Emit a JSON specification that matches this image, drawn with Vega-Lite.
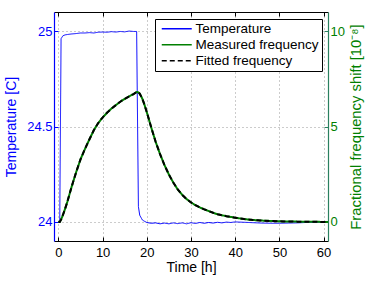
{
  "$schema": "https://vega.github.io/schema/vega-lite/v6.json",
  "width": 274,
  "height": 229,
  "autosize": {"type": "none"},
  "padding": {"left": 54, "top": 12, "right": 46, "bottom": 40},
  "background": "white",
  "config": {
    "view": {"stroke": null},
    "font": "Liberation Sans",
    "axis": {
      "labelFont": "Liberation Sans",
      "titleFont": "Liberation Sans",
      "titleFontWeight": "normal",
      "labelFontSize": 13,
      "titleFontSize": 14,
      "tickSize": -4,
      "tickWidth": 1,
      "domainWidth": 1.2,
      "gridDash": [1, 3],
      "gridColor": "#999999",
      "gridOpacity": 1
    },
    "legend": {
      "labelFont": "Liberation Sans",
      "labelFontSize": 13.5,
      "labelColor": "black"
    }
  },
  "data": {
    "values": [
      {"t": 0, "Temperature": 24.0, "Measured frequency": 0, "Fitted frequency": 0},
      {"t": 0.3, "Temperature": 24.0, "Measured frequency": 0.0, "Fitted frequency": 0.0},
      {"t": 0.6, "Temperature": 24.96, "Measured frequency": 0.12, "Fitted frequency": 0.12},
      {"t": 1, "Temperature": 24.975, "Measured frequency": 0.35, "Fitted frequency": 0.35},
      {"t": 1.5, "Temperature": 24.98, "Measured frequency": 0.68, "Fitted frequency": 0.68},
      {"t": 2, "Temperature": 24.982, "Measured frequency": 1.04, "Fitted frequency": 1.04},
      {"t": 3, "Temperature": 24.985, "Measured frequency": 1.85, "Fitted frequency": 1.85},
      {"t": 4, "Temperature": 24.987, "Measured frequency": 2.6, "Fitted frequency": 2.6},
      {"t": 5, "Temperature": 24.99, "Measured frequency": 3.28, "Fitted frequency": 3.28},
      {"t": 6, "Temperature": 24.99, "Measured frequency": 3.82, "Fitted frequency": 3.82},
      {"t": 7, "Temperature": 24.992, "Measured frequency": 4.32, "Fitted frequency": 4.32},
      {"t": 8, "Temperature": 24.99, "Measured frequency": 4.8, "Fitted frequency": 4.8},
      {"t": 9, "Temperature": 24.994, "Measured frequency": 5.18, "Fitted frequency": 5.18},
      {"t": 10, "Temperature": 24.995, "Measured frequency": 5.47, "Fitted frequency": 5.47},
      {"t": 11, "Temperature": 24.994, "Measured frequency": 5.72, "Fitted frequency": 5.72},
      {"t": 12, "Temperature": 24.997, "Measured frequency": 5.94, "Fitted frequency": 5.94},
      {"t": 13, "Temperature": 24.995, "Measured frequency": 6.12, "Fitted frequency": 6.12},
      {"t": 14, "Temperature": 24.998, "Measured frequency": 6.3, "Fitted frequency": 6.3},
      {"t": 15, "Temperature": 24.996, "Measured frequency": 6.45, "Fitted frequency": 6.45},
      {"t": 16, "Temperature": 25.0, "Measured frequency": 6.58, "Fitted frequency": 6.58},
      {"t": 17, "Temperature": 24.998, "Measured frequency": 6.7, "Fitted frequency": 6.7},
      {"t": 17.7, "Temperature": 24.998, "Measured frequency": 6.81, "Fitted frequency": 6.81},
      {"t": 18.1, "Temperature": 24.08, "Measured frequency": 6.79, "Fitted frequency": 6.79},
      {"t": 18.4, "Temperature": 24.035, "Measured frequency": 6.72, "Fitted frequency": 6.72},
      {"t": 19, "Temperature": 24.01, "Measured frequency": 6.45, "Fitted frequency": 6.45},
      {"t": 19.5, "Temperature": 24.003, "Measured frequency": 6.12, "Fitted frequency": 6.12},
      {"t": 20, "Temperature": 23.997, "Measured frequency": 5.75, "Fitted frequency": 5.75},
      {"t": 21, "Temperature": 23.993, "Measured frequency": 4.95, "Fitted frequency": 4.95},
      {"t": 22, "Temperature": 23.995, "Measured frequency": 4.2, "Fitted frequency": 4.2},
      {"t": 23, "Temperature": 23.99, "Measured frequency": 3.55, "Fitted frequency": 3.55},
      {"t": 24, "Temperature": 23.994, "Measured frequency": 2.98, "Fitted frequency": 2.98},
      {"t": 25, "Temperature": 23.99, "Measured frequency": 2.48, "Fitted frequency": 2.48},
      {"t": 26, "Temperature": 23.995, "Measured frequency": 2.06, "Fitted frequency": 2.06},
      {"t": 27, "Temperature": 23.991, "Measured frequency": 1.7, "Fitted frequency": 1.7},
      {"t": 28, "Temperature": 23.995, "Measured frequency": 1.42, "Fitted frequency": 1.42},
      {"t": 29, "Temperature": 23.99, "Measured frequency": 1.2, "Fitted frequency": 1.2},
      {"t": 30, "Temperature": 23.996, "Measured frequency": 1.02, "Fitted frequency": 1.02},
      {"t": 31, "Temperature": 23.992, "Measured frequency": 0.88, "Fitted frequency": 0.88},
      {"t": 32, "Temperature": 23.997, "Measured frequency": 0.76, "Fitted frequency": 0.76},
      {"t": 33, "Temperature": 23.993, "Measured frequency": 0.66, "Fitted frequency": 0.66},
      {"t": 34, "Temperature": 23.997, "Measured frequency": 0.57, "Fitted frequency": 0.57},
      {"t": 35, "Temperature": 23.994, "Measured frequency": 0.48, "Fitted frequency": 0.48},
      {"t": 36, "Temperature": 23.998, "Measured frequency": 0.4, "Fitted frequency": 0.4},
      {"t": 37, "Temperature": 23.995, "Measured frequency": 0.35, "Fitted frequency": 0.35},
      {"t": 38, "Temperature": 23.999, "Measured frequency": 0.3, "Fitted frequency": 0.3},
      {"t": 39, "Temperature": 23.997, "Measured frequency": 0.26, "Fitted frequency": 0.26},
      {"t": 40, "Temperature": 24.0, "Measured frequency": 0.22, "Fitted frequency": 0.22},
      {"t": 42, "Temperature": 23.998, "Measured frequency": 0.15, "Fitted frequency": 0.15},
      {"t": 44, "Temperature": 23.996, "Measured frequency": 0.1, "Fitted frequency": 0.1},
      {"t": 46, "Temperature": 23.994, "Measured frequency": 0.07, "Fitted frequency": 0.07},
      {"t": 48, "Temperature": 23.993, "Measured frequency": 0.05, "Fitted frequency": 0.05},
      {"t": 50, "Temperature": 23.993, "Measured frequency": 0.03, "Fitted frequency": 0.03},
      {"t": 52, "Temperature": 23.994, "Measured frequency": 0.02, "Fitted frequency": 0.02},
      {"t": 54, "Temperature": 23.995, "Measured frequency": 0.015, "Fitted frequency": 0.015},
      {"t": 56, "Temperature": 23.997, "Measured frequency": 0.01, "Fitted frequency": 0.01},
      {"t": 58, "Temperature": 23.998, "Measured frequency": 0.005, "Fitted frequency": 0.005},
      {"t": 60, "Temperature": 23.999, "Measured frequency": 0, "Fitted frequency": 0},
      {"t": 61, "Temperature": 24.0, "Measured frequency": 0, "Fitted frequency": 0}
    ]
  },
  "resolve": {"scale": {"y": "independent"}, "axis": {"x": "independent"}},
  "layer": [
    {
      "transform": [{"fold": ["Temperature"], "as": ["series", "value"]}],
      "mark": {"type": "line", "strokeWidth": 1, "clip": true},
      "encoding": {
        "x": {
          "field": "t", "type": "quantitative",
          "scale": {"domain": [-1, 61], "nice": false, "zero": false},
          "axis": {
            "orient": "bottom", "values": [0, 10, 20, 30, 40, 50, 60],
            "title": "Time [h]", "grid": true, "domainColor": "black",
            "tickColor": "black", "labelColor": "black", "titleColor": "black",
            "labelPadding": 9, "titlePadding": 1
          }
        },
        "y": {
          "field": "value", "type": "quantitative",
          "scale": {"domain": [23.9, 25.1], "nice": false, "zero": false},
          "axis": {
            "orient": "left", "values": [24, 24.5, 25],
            "labelExpr": "datum.value + ''",
            "title": "Temperature [C]", "grid": true,
            "domainColor": "#0000ff", "tickColor": "#0000ff",
            "labelColor": "#0000ff", "titleColor": "#0000ff",
            "labelPadding": 6, "titlePadding": 8.5
          }
        },
        "color": {
          "field": "series", "type": "nominal",
          "scale": {
            "domain": ["Temperature", "Measured frequency", "Fitted frequency"],
            "range": ["#0000ff", "#008000", "#000000"]
          },
          "legend": {
            "title": null, "orient": "none", "legendX": 101, "legendY": 7,
            "symbolType": "M-1,0H9", "symbolSize": 36, "symbolStrokeWidth": 1.5,
            "strokeColor": "black", "fillColor": "white", "padding": 3,
            "rowPadding": 1, "labelOffset": 24, "cornerRadius": 0
          }
        },
        "strokeDash": {
          "field": "series", "type": "nominal",
          "scale": {
            "domain": ["Temperature", "Measured frequency", "Fitted frequency"],
            "range": [[1, 0], [1, 0], [5, 3]]
          },
          "legend": {
            "title": null, "orient": "none", "legendX": 101, "legendY": 7,
            "symbolType": "M-1,0H9", "symbolSize": 36, "symbolStrokeWidth": 1.5,
            "strokeColor": "black", "fillColor": "white", "padding": 3,
            "rowPadding": 1, "labelOffset": 24, "cornerRadius": 0
          }
        }
      }
    },
    {
      "layer": [
        {
          "transform": [{"fold": ["Measured frequency"], "as": ["series", "value"]}],
          "mark": {"type": "line", "strokeWidth": 2, "clip": true},
          "encoding": {
            "x": {
              "field": "t", "type": "quantitative",
              "scale": {"domain": [-1, 61], "nice": false, "zero": false},
              "axis": {
                "orient": "top", "values": [0, 10, 20, 30, 40, 50, 60],
                "labels": false, "title": null, "grid": false,
                "domainColor": "black", "tickColor": "black"
              }
            },
            "y": {
              "field": "value", "type": "quantitative",
              "scale": {"domain": [-1, 11], "nice": false, "zero": false},
              "axis": {
                "orient": "right", "values": [0, 5, 10],
                "title": "Fractional frequency shift [10⁻⁸]", "grid": false,
                "titleAngle": -90, "titleBaseline": "top", "titleFontSize": 14.8,
                "domainColor": "#2a8060", "tickColor": "#2a8060",
                "labelColor": "#008000", "titleColor": "#008000",
                "labelPadding": 6, "titlePadding": 4
              }
            },
            "color": {"field": "series", "type": "nominal"},
            "strokeDash": {"field": "series", "type": "nominal"}
          }
        },
        {
          "transform": [{"fold": ["Fitted frequency"], "as": ["series", "value"]}],
          "mark": {"type": "line", "strokeWidth": 2, "clip": true},
          "encoding": {
            "x": {"field": "t", "type": "quantitative"},
            "y": {"field": "value", "type": "quantitative"},
            "color": {"field": "series", "type": "nominal"},
            "strokeDash": {"field": "series", "type": "nominal"}
          }
        }
      ]
    }
  ]
}
